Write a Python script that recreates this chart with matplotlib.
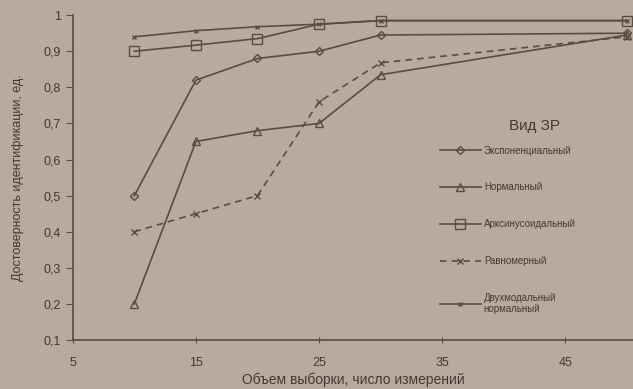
import matplotlib
matplotlib.use("Agg")
import matplotlib.pyplot as plt

plt.rcParams['font.family'] = ['Liberation Sans', 'DejaVu Sans']

x = [10, 15, 20, 25, 30, 50]
exponential = [0.50, 0.82, 0.88, 0.90, 0.945, 0.95]
normal = [0.20, 0.65, 0.68, 0.70, 0.835, 0.945]
arcsine = [0.90, 0.917, 0.935, 0.975, 0.985, 0.985]
uniform = [0.40, 0.45, 0.50, 0.76, 0.868, 0.94]
bimodal = [0.94, 0.957, 0.968, 0.975, 0.985, 0.985]

labels = ["Экспоненциальный", "Нормальный", "Арксинусоидальный",
          "Равномерный", "Двухмодальный\nнормальный"]
yticks = [0.1, 0.2, 0.3, 0.4, 0.5, 0.6, 0.7, 0.8, 0.9, 1.0]
ytick_labels = ["0,1", "0,2", "0,3", "0,4", "0,5", "0,6", "0,7", "0,8", "0,9", "1"]
xticks = [5, 15, 25, 35, 45]

bg = "#b9aa9d"
lc = "#5b4b42"
tc = "#433835"

fig = plt.figure(figsize=(6.33, 3.89), dpi=100, facecolor=bg)
ax = fig.add_axes([0.115, 0.126, 0.885, 0.835], facecolor=bg)

kw = dict(color=lc, linewidth=1.2, markerfacecolor='none', markeredgecolor=lc)
ax.plot(x, exponential, marker='D', markersize=4.5, label=labels[0], **kw)
ax.plot(x, normal, marker='^', markersize=5.5, label=labels[1], **kw)
ax.plot(x, arcsine, marker='s', markersize=6.5, label=labels[2], **kw)
ax.plot(x, uniform, marker='x', markersize=4, linestyle=(0, (4, 3)), label=labels[3], **kw)
ax.plot(x, bimodal, marker='x', markersize=3, label=labels[4], **kw)

ax.set_xlim(5, 50.5)
ax.set_ylim(0.1, 1.0)
ax.set_yticks(yticks)
ax.set_yticklabels(ytick_labels)
ax.set_xticks(xticks)
for s in ['top', 'right']:
    ax.spines[s].set_visible(False)
for s in ['left', 'bottom']:
    ax.spines[s].set_color(lc)
    ax.spines[s].set_linewidth(1.2)
ax.tick_params(axis='y', direction='out', length=5, color=lc, labelcolor=tc, labelsize=9)
ax.tick_params(axis='x', direction='inout', length=5, color=lc, labelcolor=tc, labelsize=9, pad=10)

ax.set_xlabel("Объем выборки, число измерений", color=tc, fontsize=10, labelpad=2)
ax.set_ylabel("Достоверность идентификации, ед.", color=tc, fontsize=9, labelpad=14)

ax.text(0.825, 0.66, "Вид ЗР", transform=ax.transAxes, ha='center', va='center',
        fontsize=11, color=tc)
leg = ax.legend(loc='upper left', bbox_to_anchor=(0.64, 0.625), frameon=False,
                fontsize=7, labelspacing=2.75,
                handlelength=4.2, handletextpad=0.3)
for t in leg.get_texts():
    t.set_color(tc)

fig.savefig("out.png", dpi=100, facecolor=bg)
